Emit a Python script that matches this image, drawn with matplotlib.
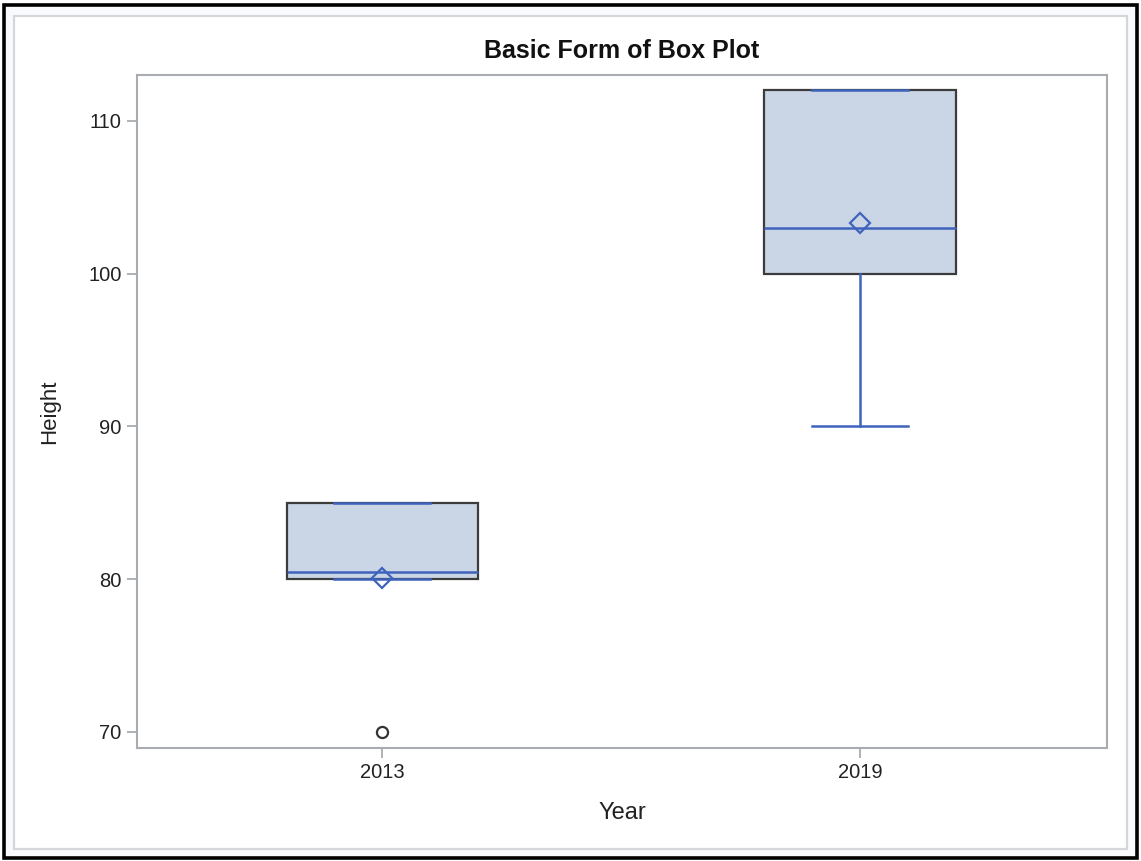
import matplotlib
matplotlib.use("Agg")
import matplotlib.pyplot as plt
from matplotlib.patches import Rectangle

plt.rcParams['font.family'] = ['Liberation Sans', 'DejaVu Sans']

# Summary statistics per year
years = ["2013", "2019"]
q1 = [80.0, 100.0]
median = [80.5, 103.0]
q3 = [85.0, 112.0]
whisker_low = [80.0, 90.0]
whisker_high = [85.0, 112.0]
means = [80.1, 103.3]
outliers = [[70.0], []]

fill_color = "#CAD5E5"
edge_color = "#3C3C3C"
line_blue = "#3F63BD"
spine_gray = "#A8ACB0"

fig = plt.figure(figsize=(11.41, 8.61), dpi=100)
fig.patch.set_facecolor("white")

# Outer frame and inner panel
fig.add_artist(Rectangle((0.0035, 0.004), 0.993, 0.99, transform=fig.transFigure,
                         facecolor="#F9FAFD", edgecolor="black", linewidth=2.6, zorder=0))
fig.add_artist(Rectangle((0.0125, 0.0140), 0.975, 0.967, transform=fig.transFigure,
                         facecolor="white", edgecolor="#D4D6D8", linewidth=1.6, zorder=0))

W, H = 1141, 861
left, right, top, bottom = 137, 1107, 75, 748
ax = fig.add_axes([left / W, 1 - bottom / H, (right - left) / W, (bottom - top) / H])

stats = []
for i, yr in enumerate(years):
    stats.append(dict(label=yr, q1=q1[i], med=median[i], q3=q3[i],
                      whislo=whisker_low[i], whishi=whisker_high[i],
                      mean=means[i], fliers=outliers[i]))

ax.bxp(stats, positions=range(len(years)), widths=0.40, patch_artist=True,
       showmeans=True, showfliers=True, manage_ticks=False,
       boxprops=dict(facecolor=fill_color, edgecolor=edge_color, linewidth=1.6),
       medianprops=dict(color=line_blue, linewidth=1.8),
       whiskerprops=dict(color=line_blue, linewidth=1.8),
       capprops=dict(color=line_blue, linewidth=1.8),
       capwidths=0.20,
       meanprops=dict(marker="D", markersize=10, markerfacecolor="none",
                      markeredgecolor=line_blue, markeredgewidth=1.6),
       flierprops=dict(marker="o", markersize=8, markerfacecolor="none",
                       markeredgecolor="#333333", markeredgewidth=1.6))

ax.set_xlim(-0.513, 1.517)
ax.set_ylim(68.95, 113.0)
ax.set_xticks(range(len(years)))
ax.set_xticklabels(years)
ax.set_yticks([70, 80, 90, 100, 110])

for s in ax.spines.values():
    s.set_color(spine_gray)
    s.set_linewidth(1.5)
ax.tick_params(axis="both", colors=spine_gray, length=7, width=1.3,
               labelsize=14.5, labelcolor="#222222", pad=4)

ax.set_xlabel("Year", fontsize=17, color="#222222", labelpad=14)
ax.set_ylabel("Height", fontsize=16, color="#222222", labelpad=20)
ax.set_title("Basic Form of Box Plot", fontsize=18, fontweight="bold",
             color="#111111", pad=12)

fig.savefig("out.png", dpi=100)
